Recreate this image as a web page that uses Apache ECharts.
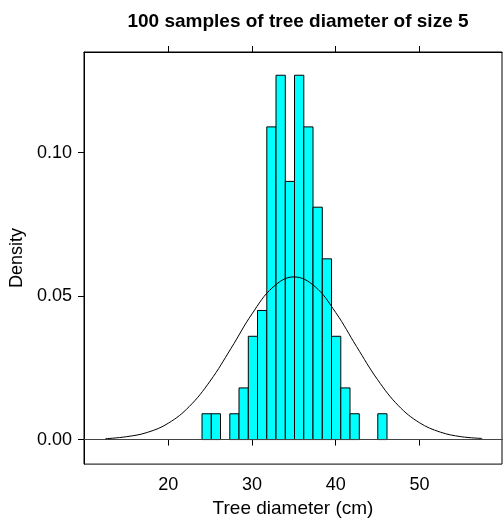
<!DOCTYPE html>
<html>
	<head>
		<meta charset="UTF-8">
		<title></title>
		<script src="https://cdn.jsdelivr.net/npm/echarts@6/dist/echarts.min.js"></script>
		<style>
			html, body { margin: 0; padding: 0; background: #fff; }
			#main { width: 503px; height: 523px; }
		</style>
	</head>
	<body>
		<div id="main"></div>
	</body>
<script>
// histogram bins (cm) and densities
var binEdges = [24.03, 25.14, 26.24, 27.35, 28.45, 29.56, 30.66, 31.77, 32.87, 33.98, 35.08,
	36.19, 37.29, 38.40, 39.50, 40.61, 41.71, 42.82, 43.92, 45.03, 46.13];
var densities = [0.009, 0.009, 0, 0.009, 0.018, 0.036, 0.045, 0.109, 0.127, 0.090,
	0.127, 0.109, 0.081, 0.063, 0.036, 0.018, 0.009, 0, 0, 0.009];
// density curve, read at a few points
var curveX = [12.5, 15, 17.5, 20, 22.5, 25, 27.5, 30, 32.5, 35, 37.5, 40, 42.5, 45, 47.5, 50, 52.5, 55, 57.5];
var curveY = [0.0003, 0.0010, 0.0025, 0.0057, 0.0115, 0.0204, 0.0318, 0.0438, 0.0531, 0.0567,
	0.0534, 0.0443, 0.0324, 0.0209, 0.0118, 0.0059, 0.0026, 0.0010, 0.0004];
var xTicks = [20, 30, 40, 50];
var yTicks = [0, 0.05, 0.10];

var font = 'Liberation Sans, Arial, sans-serif';

var bars = [];
for (var i = 0; i < densities.length; i++) {
	bars.push([binEdges[i], binEdges[i + 1], densities[i]]);
}
var curve = [];
for (var i = 0; i < curveX.length; i++) {
	curve.push([curveX[i], curveY[i]]);
}

var myChart = echarts.init(document.getElementById('main'));
var option = {
	animation: false,
	title: {
		text: '100 samples of tree diameter of size 5',
		left: 293,
		top: 7,
		textAlign: 'center',
		textStyle: { fontFamily: font, fontSize: 19, fontWeight: 'bold', color: '#000' }
	},
	grid: {
		left: 84, right: 1, top: 52, bottom: 56,
		show: true, borderColor: '#000', borderWidth: 1, backgroundColor: 'transparent'
	},
	xAxis: [{
		type: 'value', min: 9.93, max: 59.87,
		name: 'Tree diameter (cm)', nameLocation: 'middle', nameGap: 33,
		nameTextStyle: { fontFamily: font, fontSize: 19, color: '#000' },
		axisLine: { show: true, lineStyle: { color: '#000', width: 1 } },
		axisTick: { show: true, length: 6, customValues: xTicks, lineStyle: { color: '#000' } },
		axisLabel: { customValues: xTicks, margin: 12, fontFamily: font, fontSize: 18, color: '#000' },
		splitLine: { show: false }
	}, {
		type: 'value', min: 9.93, max: 59.87, position: 'top',
		axisLine: { show: true, lineStyle: { color: '#000', width: 1 } },
		axisTick: { show: true, length: 6, customValues: xTicks, lineStyle: { color: '#000' } },
		axisLabel: { show: false },
		splitLine: { show: false }
	}],
	yAxis: {
		type: 'value', min: -0.00855, max: 0.1351,
		name: 'Density', nameLocation: 'middle', nameGap: 58, nameRotate: 90,
		nameTextStyle: { fontFamily: font, fontSize: 18, color: '#000' },
		axisLine: { show: true, lineStyle: { color: '#000', width: 1 } },
		axisTick: { show: true, length: 6, customValues: yTicks, lineStyle: { color: '#000' } },
		axisLabel: {
			customValues: yTicks, margin: 12, fontFamily: font, fontSize: 18, color: '#000',
			formatter: function (v) { return v.toFixed(2); }
		},
		splitLine: { show: false }
	},
	series: [{
		type: 'custom',
		xAxisIndex: 0,
		data: bars,
		renderItem: function (params, api) {
			var d = api.value(2);
			if (!d) return;
			var p0 = api.coord([api.value(0), d]);
			var p1 = api.coord([api.value(1), 0]);
			return {
				type: 'rect',
				shape: { x: p0[0], y: p0[1], width: p1[0] - p0[0], height: p1[1] - p0[1] },
				style: { fill: '#00FFFF', stroke: '#000', lineWidth: 1 }
			};
		},
		markLine: {
			silent: true, symbol: 'none', label: { show: false },
			lineStyle: { color: '#444', width: 1, type: 'solid' },
			data: [{ yAxis: 0 }]
		}
	}, {
		type: 'line',
		xAxisIndex: 0,
		data: curve,
		smooth: 0.4,
		showSymbol: false,
		lineStyle: { color: '#000', width: 1 },
		z: 5
	}]
};
myChart.setOption(option);
</script>
</html>
